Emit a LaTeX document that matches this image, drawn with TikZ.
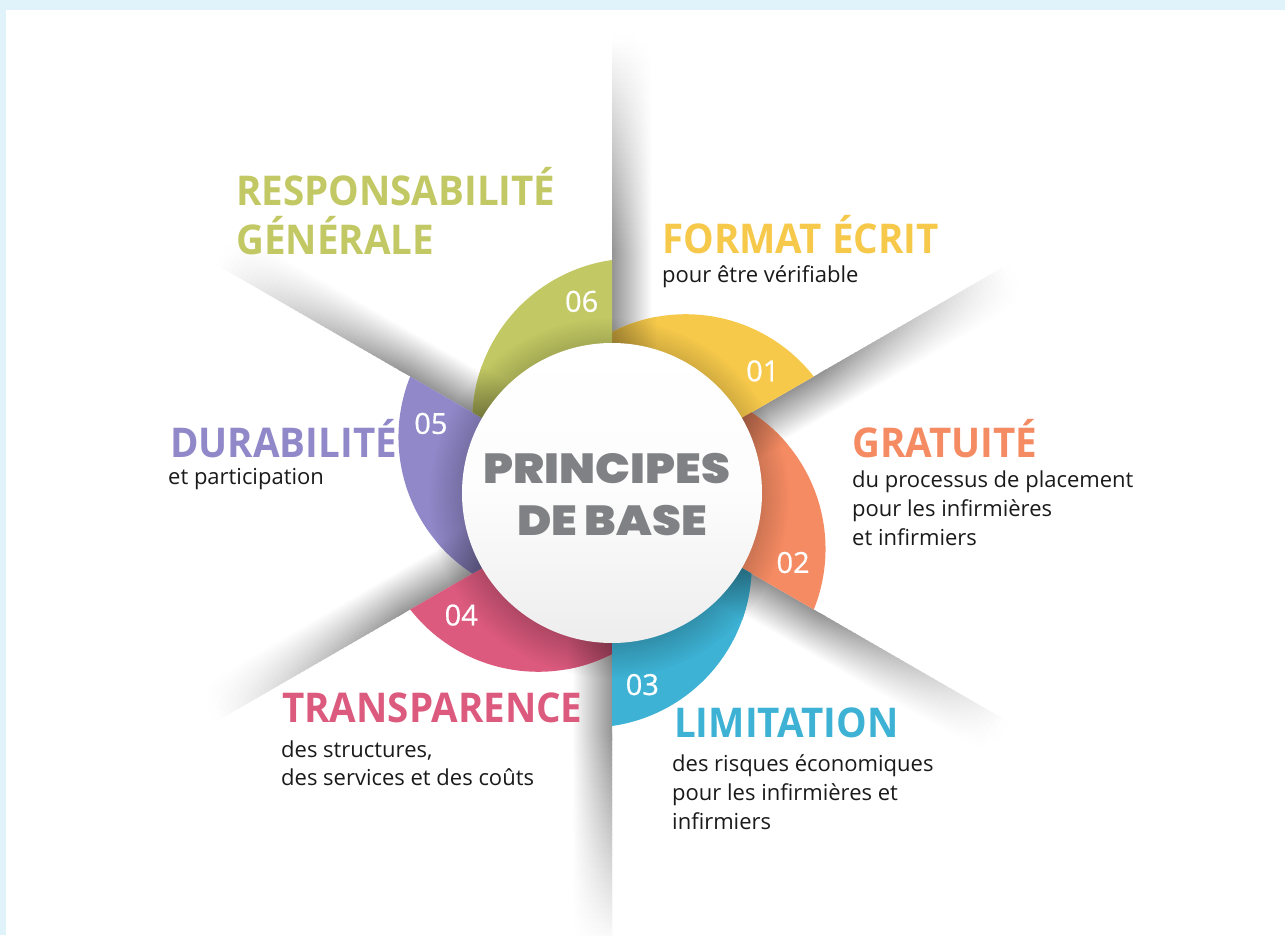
\documentclass[tikz,border=0pt]{standalone}
\usepackage{fontspec}
\setmainfont{Open Sans}
\newfontfamily\ttlfam{Open Sans}[FakeStretch=0.94]
\newfontfamily\numfam{Open Sans}[FakeBold=0.6]
\IfFontExistsTF{Poppins-Black.ttf}{\newfontfamily\heavyfam{Poppins-Black.ttf}[FakeStretch=1.1]\newcommand\prfont{\heavyfam\fontsize{42}{42}\selectfont}}{%
\IfFontExistsTF{Poppins-Black.otf}{\newfontfamily\heavyfam{Poppins-Black.otf}[FakeStretch=1.1]\newcommand\prfont{\heavyfam\fontsize{42}{42}\selectfont}}{%
\IfFontExistsTF{Poppins-ExtraBold.ttf}{\newfontfamily\heavyfam{Poppins-ExtraBold.ttf}[FakeStretch=1.12,FakeBold=1]\newcommand\prfont{\heavyfam\fontsize{42}{42}\selectfont}}{%
\newfontfamily\heavyfam{Poppins}[FakeStretch=1.12,BoldFeatures={FakeBold=2}]\newcommand\prfont{\heavyfam\bfseries\fontsize{42}{42}\selectfont}}}}
\usetikzlibrary{fadings}
\definecolor{bgblue}{HTML}{E1F3FA}
\definecolor{cyel}{HTML}{F6C94B}
\definecolor{cora}{HTML}{F58B63}
\definecolor{cblu}{HTML}{3DB2D4}
\definecolor{cpin}{HTML}{DC5A7E}
\definecolor{cpur}{HTML}{9188C9}
\definecolor{cgre}{HTML}{C2C863}
\definecolor{cgry}{HTML}{808184}
\definecolor{ctxt}{HTML}{1A1A1A}
\newcommand\ttlfont{\ttlfam\fontsize{41}{41}\selectfont\bfseries}
\newcommand\bdyfont{\fontsize{22}{29}\selectfont}
\newcommand\numfont{\numfam\fontsize{29}{29}\selectfont}
\tikzset{
  ttl/.style={anchor=base west, inner sep=0pt, font=\ttlfont},
  bdy/.style={anchor=base west, inner sep=0pt, font=\bdyfont, text=ctxt},
  num/.style={inner sep=0pt, font=\numfont, text=white},
  prn/.style={anchor=base, inner sep=0pt, font=\prfont, text=cgry},
  petal/.style={draw=none}
}
\newcommand\petalpath[1]{(0,0) -- (#1:233) arc[start angle=#1+8.1, end angle=#1+87, radius=162.6] -- cycle}
\begin{document}
\begin{tikzpicture}[x=1pt,y=1pt]
\useasboundingbox (-612,-442) rectangle (673,493);
\fill[bgblue] (-612,-442) rectangle (673,493);
\fill[white] (-606,-442) rectangle (673,483);
% shadow bands on the background (clockwise side of each radial edge)
\foreach \t in {90,30,-30,-90,-150,150} {
  \begin{scope}[transform canvas={rotate=\t}]
    \shade[top color=black!42, middle color=black!14.7, bottom color=white] (0,-40) rectangle (247,0);
    \foreach \r [evaluate=\r as \g using {42*(452.5-\r)/215}, evaluate=\r as \h using {0.35*42*(452.5-\r)/215}] in {240,245,...,450} {
      \shade[top color=black!\g, middle color=black!\h, bottom color=white] (\r,-40) rectangle (\r+7,0);
    }
  \end{scope}
}
% petals
\foreach \t/\c in {30/cyel, -30/cora, -90/cblu, 210/cpin, 150/cpur, 90/cgre} {
  \fill[petal, \c] \petalpath{\t};
  \begin{scope}
    \clip \petalpath{\t};
    \pgfmathsetmacro\u{\t+60}
    \begin{scope}[transform canvas={rotate=\u}]
      \shade[top color=\c!72!black, middle color=\c!90!black, bottom color=\c] (0,-45) rectangle (250,0);
    \end{scope}
  \end{scope}
}
% hub
\fill[black, opacity=0.2, path fading=circle with fuzzy edge 20 percent] (-3,-5) circle (180);
\node[circle, minimum size=300pt, inner sep=0pt, top color=white, bottom color=black!7, middle color=black!1] (hub) at (0,0) {};
\node[prn] (pa) at ([xshift=-5pt,yshift=10pt]hub.center) {PRINCIPES};
\node[prn] (pb) at ([yshift=-42pt]hub.center) {DE BASE};
% numbers
\node[num] (n1) at (39:194) {01};
\node[num] (n2) at (-21:194) {02};
\node[num] (n3) at (-81:194) {03};
\node[num] (n4) at (219:194) {04};
\node[num] (n5) at (159:194) {05};
\node[num] (n6) at (99:194) {06};
% texts
\node[ttl, text=cgre] (t6a) at (-376,287) {RESPONSABILITÉ};
\node[ttl, text=cgre] (t6b) at (-376,238) {GÉNÉRALE};
\node[ttl, text=cyel] (t1) at (50,240) {FORMAT ÉCRIT};
\node[bdy] (b1) at (50,211) {pour être vérifiable};
\node[ttl, text=cora] (t2) at (240,36) {GRATUITÉ};
\node[bdy] (b2a) at (240,6) {du processus de placement};
\node[bdy] (b2b) at (240,-23) {pour les infirmières};
\node[bdy] (b2c) at (240,-52) {et infirmiers};
\node[ttl, text=cblu] (t3) at (62,-244) {LIMITATION};
\node[bdy] (b3a) at (60,-278) {des risques économiques};
\node[bdy] (b3b) at (60,-307) {pour les infirmières et};
\node[bdy] (b3c) at (60,-336) {infirmiers};
\node[ttl, text=cpin] (t4) at (-330,-229) {TRANSPARENCE};
\node[bdy] (b4a) at (-331,-264) {des structures,};
\node[bdy] (b4b) at (-331,-292) {des services et des coûts};
\node[ttl, text=cpur] (t5) at (-442,36) {DURABILITÉ};
\node[bdy] (b5) at (-444,9) {et participation};
\end{tikzpicture}
\end{document}
